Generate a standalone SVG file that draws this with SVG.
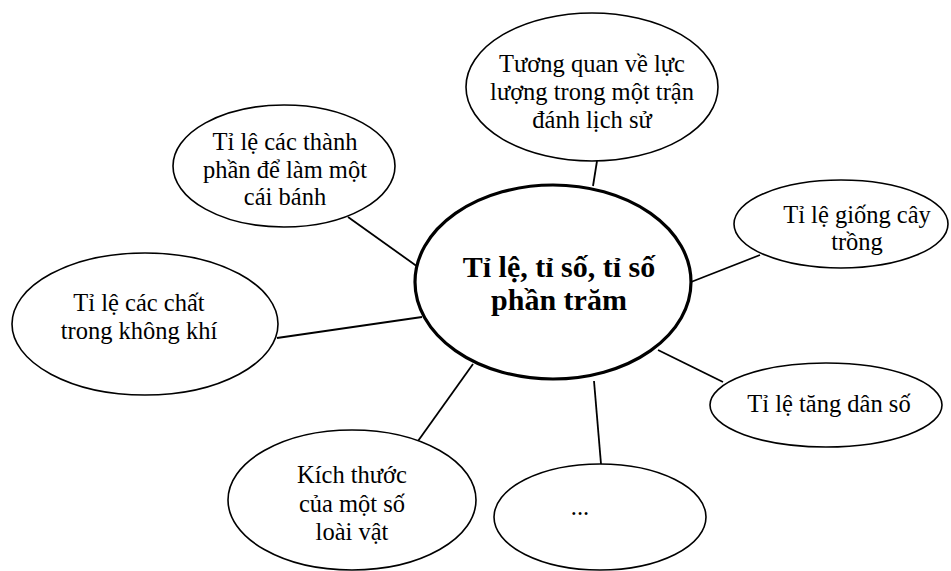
<svg xmlns="http://www.w3.org/2000/svg" width="951" height="571" viewBox="0 0 951 571">
<style>
.n{fill:#fff;stroke:#000;stroke-width:1.6}
.c{fill:#fff;stroke:#000;stroke-width:3.2}
.t{font-family:"Liberation Serif","Times New Roman",serif;font-size:24.5px;fill:#000;text-anchor:middle}
.b{font-family:"Liberation Serif","Times New Roman",serif;font-size:30px;font-weight:bold;fill:#000;text-anchor:middle}
#edges line{stroke:#000;stroke-width:1.8}
</style>
<rect width="951" height="571" fill="#fff"/>
<g id="edges">
<line x1="597" y1="161" x2="593" y2="186"/>
<line x1="348" y1="217" x2="418" y2="267"/>
<line x1="277" y1="338" x2="422" y2="317"/>
<line x1="760" y1="255" x2="691" y2="282"/>
<line x1="658" y1="350" x2="723" y2="382"/>
<line x1="594" y1="381" x2="601" y2="464"/>
<line x1="418" y1="441" x2="473" y2="364"/>
</g>
<g id="center">
<ellipse class="c" cx="553" cy="282" rx="138" ry="97"/>
<text class="b" x="559" y="277">Tỉ lệ, tỉ số, tỉ số</text>
<text class="b" x="559" y="310">phần trăm</text>
</g>
<g id="n-tuongquan">
<ellipse class="n" cx="592" cy="87" rx="126" ry="74"/>
<text class="t" x="592" y="72">Tương quan về lực</text>
<text class="t" x="592" y="100">lượng trong một trận</text>
<text class="t" x="592" y="128">đánh lịch sử</text>
</g>
<g id="n-banh">
<ellipse class="n" cx="284" cy="166" rx="111" ry="61"/>
<text class="t" x="285" y="150">Tỉ lệ các thành</text>
<text class="t" x="285" y="178">phần để làm một</text>
<text class="t" x="285" y="205">cái bánh</text>
</g>
<g id="n-khongkhi">
<ellipse class="n" cx="145" cy="324" rx="133" ry="71"/>
<text class="t" x="139" y="311">Tỉ lệ các chất</text>
<text class="t" x="139" y="339">trong không khí</text>
</g>
<g id="n-giong">
<ellipse class="n" cx="841" cy="224" rx="107" ry="44"/>
<text class="t" x="857" y="223">Tỉ lệ giống cây</text>
<text class="t" x="857" y="250">trồng</text>
</g>
<g id="n-danso">
<ellipse class="n" cx="826" cy="405" rx="116" ry="42"/>
<text class="t" x="829" y="412">Tỉ lệ tăng dân số</text>
</g>
<g id="n-loaivat">
<ellipse class="n" cx="352" cy="500" rx="124" ry="70"/>
<text class="t" x="352" y="483">Kích thước</text>
<text class="t" x="352" y="512">của một số</text>
<text class="t" x="352" y="540">loài vật</text>
</g>
<g id="n-khac">
<ellipse class="n" cx="600" cy="517" rx="106" ry="53"/>
<text class="t" x="580" y="515">...</text>
</g>
</svg>
